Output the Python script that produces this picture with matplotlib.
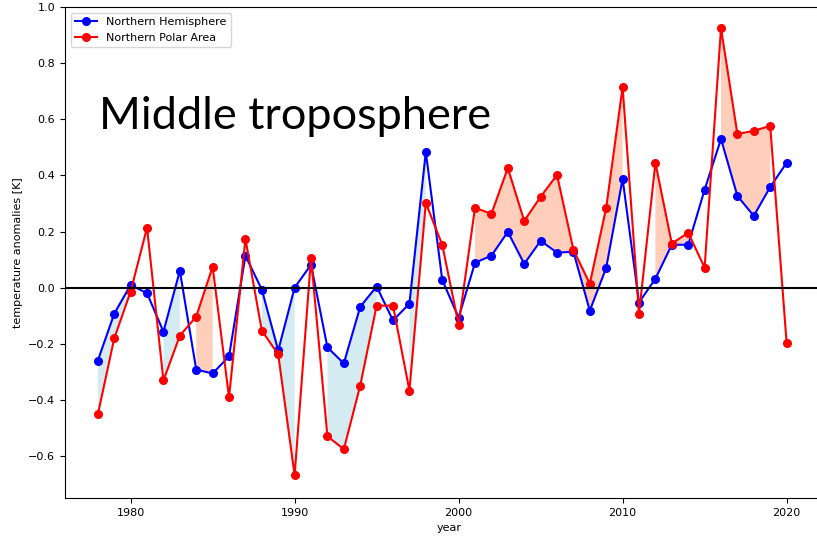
import matplotlib.pyplot as plt
import numpy as np

# data
years = np.arange(1978, 2021)
nh = [-0.26, -0.093, 0.01, -0.02, -0.157, 0.06, -0.292, -0.306, -0.245, 0.114,
      -0.007, -0.224, 0.0, 0.082, -0.213, -0.27, -0.068, 0.004, -0.117, -0.057,
      0.484, 0.028, -0.107, 0.089, 0.114, 0.199, 0.085, 0.167, 0.125, 0.128,
      -0.082, 0.071, 0.388, -0.053, 0.032, 0.153, 0.153, 0.349, 0.53, 0.327,
      0.256, 0.359, 0.445]
polar = [-0.452, -0.181, -0.014, 0.214, -0.331, -0.171, -0.103, 0.075, -0.391, 0.174,
         -0.153, -0.238, -0.669, 0.107, -0.53, -0.576, -0.349, -0.064, -0.064, -0.367,
         0.302, 0.153, -0.132, 0.285, 0.263, 0.427, 0.238, 0.324, 0.402, 0.135,
         0.014, 0.285, 0.715, -0.093, 0.445, 0.157, 0.196, 0.071, 0.925, 0.548,
         0.559, 0.577, -0.196]

nh = np.array(nh)
polar = np.array(polar)

plt.rcParams['font.size'] = 8

fig = plt.figure(figsize=(8.17, 5.37), dpi=100)
# the right edge of the plot runs off the picture, as in the original crop
ax = fig.add_axes([0.0796, 0.0726, 0.94, 0.914])

ax.fill_between(years, nh, polar, where=nh > polar, color='lightblue', alpha=0.5, linewidth=0)
ax.fill_between(years, nh, polar, where=polar > nh, color='lightsalmon', alpha=0.5, linewidth=0)
ax.plot(years, nh, 'o-', color='blue', markersize=5.5, label='Northern Hemisphere')
ax.plot(years, polar, 'o-', color='red', markersize=5.5, label='Northern Polar Area')
ax.axhline(0, color='black', linewidth=1.5)

ax.text(1978.1, 0.565, 'Middle troposphere', fontsize=32.5, family='Lato', va='baseline')

ax.set_xlim(1976.0, 2022.83)
ax.set_ylim(-0.75, 1.0)
ax.set_xlabel('year')
ax.set_ylabel('temperature anomalies [K]')
ax.legend(loc='upper left')

plt.savefig('out.png', dpi=100)
